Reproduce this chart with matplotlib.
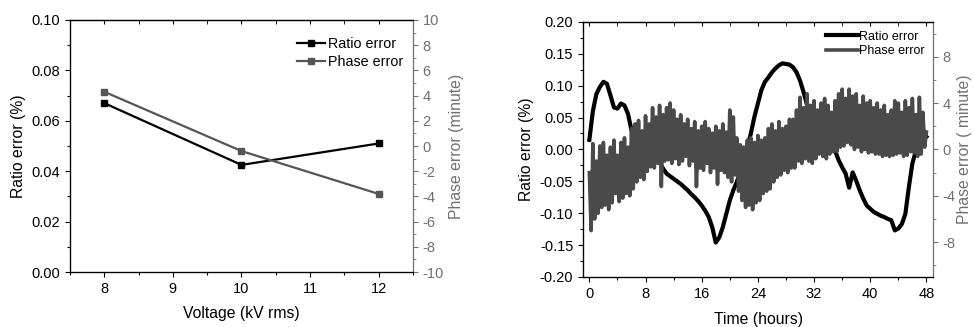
import numpy as np
import matplotlib.pyplot as plt
from matplotlib.ticker import MultipleLocator

plt.rcParams['font.family'] = ['Liberation Sans', 'DejaVu Sans']
plt.rcParams['axes.unicode_minus'] = False

# Left panel data (voltage sweep)
voltage = [8, 10, 12]
ratio_v = [0.067, 0.0425, 0.051]
phase_v = [4.3, -0.4, -3.8]

# Right panel data (48 hour run)
t_ratio = np.arange(0, 48.01, 0.5)
ratio_t = [
    0.015, 0.060, 0.087, 0.098, 0.106, 0.103, 0.085, 0.066, 0.064, 0.072,
    0.069, 0.056, 0.030, 0.020, 0.012, 0.006, 0.000, -0.005, -0.010, -0.014,
    -0.020, -0.030, -0.038, -0.042, -0.046, -0.050, -0.054, -0.059, -0.064, -0.070,
    -0.075, -0.081, -0.088, -0.096, -0.106, -0.122, -0.146, -0.138, -0.122, -0.101,
    -0.080, -0.064, -0.051, -0.035, -0.018, 0.004, 0.025, 0.051, 0.072, 0.093,
    0.106, 0.113, 0.121, 0.127, 0.132, 0.135, 0.134, 0.133, 0.129, 0.121,
    0.108, 0.090, 0.070, 0.055, 0.045, 0.035, 0.028, 0.020, 0.012, 0.005,
    -0.002, -0.017, -0.028, -0.038, -0.060, -0.036, -0.049, -0.064, -0.077, -0.088,
    -0.093, -0.098, -0.101, -0.104, -0.106, -0.109, -0.111, -0.127, -0.124, -0.117,
    -0.101, -0.059, -0.022, -0.002, 0.010, 0.015, 0.020,
]

t_phase = np.arange(0, 48.01, 0.25)
phase_t = [
    -2.0, -7.0, 0.5, -6.0,
    -1.0, -5.5, 0.3, -5.0,
    0.6, -4.8, -0.5, -5.2,
    0.2, -4.6, 0.8, -3.8,
    -0.5, -4.5, 0.6, -4.2,
    1.0, -3.8, 0.2, -4.0,
    1.8, -3.4, 2.2, -2.8,
    2.5, -2.4, 1.6, -2.6,
    2.9, -1.9, 2.2, -1.5,
    3.6, -1.6, 2.8, -1.2,
    3.8, -3.2, 3.0, -1.0,
    3.6, -0.9, 4.0, -1.2,
    3.4, -0.8, 2.6, -1.3,
    3.0, -1.0, 2.2, -0.6,
    2.6, -1.4, 1.8, -1.0,
    2.4, -3.2, 1.6, -1.6,
    2.0, -1.8, 2.4, -1.2,
    1.8, -2.0, 1.4, -1.6,
    2.0, -3.0, 1.6, -1.8,
    2.2, -2.0, 1.5, -2.4,
    3.4, -2.8, 2.8, -2.2,
    1.0, -3.6, 0.4, -4.4,
    0.2, -5.0, 0.8, -4.8,
    1.0, -5.2, 0.6, -4.6,
    1.2, -4.4, 0.8, -3.8,
    1.0, -3.6, 1.8, -3.4,
    2.2, -2.8, 1.6, -2.4,
    2.4, -2.2, 1.8, -1.8,
    2.0, -2.0, 2.6, -1.6,
    2.6, -1.6, 3.4, -1.0,
    4.5, -1.2, 3.6, -0.8,
    4.8, -1.0, 3.8, -1.2,
    4.2, -0.8, 3.4, -0.4,
    4.0, -0.6, 4.4, -0.8,
    3.8, -0.4, 3.2, -0.2,
    4.2, -0.2, 4.8, 0.2,
    5.2, 0.3, 4.4, 0.6,
    5.2, 0.4, 4.6, 0.0,
    4.8, 0.2, 3.8, -0.2,
    4.6, 0.0, 4.0, -0.3,
    4.2, -0.2, 3.6, -0.4,
    4.0, -0.4, 3.4, -0.6,
    3.8, -0.5, 3.0, -0.6,
    3.4, -0.5, 4.2, -0.4,
    4.0, -0.3, 3.2, -0.6,
    4.2, -0.5, 3.6, -0.2,
    4.4, -0.3, 3.0, -0.6,
    4.5, -0.4, 3.2, 0.2,
    1.5,
]

gray = '#555555'
band_gray = '#4a4a4a'
axis_gray = '#707070'

fig = plt.figure(figsize=(9.74, 3.27), dpi=100)


def style_axes(ax, ax2, xmajor, xminor):
    ax.xaxis.set_major_locator(MultipleLocator(xmajor))
    ax.xaxis.set_minor_locator(MultipleLocator(xminor))
    ax.tick_params(axis='both', which='both', direction='out', labelsize=10.5)
    ax.tick_params(which='major', length=3.5, width=0.8)
    ax.tick_params(which='minor', length=2, width=0.8)
    ax.tick_params(axis='x', top=False)
    ax2.tick_params(axis='y', which='both', direction='out', colors=axis_gray,
                    labelsize=10.5, labelcolor=axis_gray)
    ax2.tick_params(axis='y', which='major', length=3.5)
    ax2.tick_params(axis='y', which='minor', length=2)
    ax2.spines['right'].set_color(axis_gray)
    ax.spines['right'].set_visible(False)
    # inward ticks along the top edge
    top = ax.secondary_xaxis('top')
    top.xaxis.set_major_locator(MultipleLocator(xmajor))
    top.xaxis.set_minor_locator(MultipleLocator(xminor))
    top.tick_params(which='both', direction='in', labeltop=False, length=3)
    for s in ax.spines.values():
        s.set_linewidth(0.9)
    ax2.spines['right'].set_linewidth(0.9)


# ---- left panel ----
ax1 = fig.add_axes([0.0719, 0.168, 0.352, 0.771])
ax1b = ax1.twinx()
l1, = ax1.plot(voltage, ratio_v, color='black', marker='s', markersize=5, lw=1.6,
               label='Ratio error')
l2, = ax1b.plot(voltage, phase_v, color=gray, marker='s', markersize=5, lw=1.6,
                label='Phase error')
ax1.set_xlim(7.5, 12.5)
ax1.set_ylim(0, 0.1)
ax1b.set_ylim(-10, 10)
ax1.yaxis.set_major_locator(MultipleLocator(0.02))
ax1.yaxis.set_minor_locator(MultipleLocator(0.01))
ax1b.yaxis.set_major_locator(MultipleLocator(2))
ax1b.yaxis.set_minor_locator(MultipleLocator(1))
style_axes(ax1, ax1b, 1, 0.5)
ax1.set_xlabel('Voltage (kV rms)', fontsize=11.3, labelpad=7)
ax1.set_ylabel('Ratio error (%)', fontsize=11.3)
ax1b.set_ylabel('Phase error (minute)', fontsize=11.3, color=axis_gray)
ax1b.legend([l1, l2], ['Ratio error', 'Phase error'], loc='upper right',
            bbox_to_anchor=(1.023, 1.0),
            frameon=False, fontsize=10.3, handlelength=2.0, handletextpad=0.2,
            borderaxespad=0.8, labelspacing=0.25)

# ---- right panel ----
ax3 = fig.add_axes([0.5986, 0.153, 0.3594, 0.78])
ax3b = ax3.twinx()
l3, = ax3.plot(t_ratio, ratio_t, color='black', lw=3.0, label='Ratio error')
l4, = ax3b.plot(t_phase, phase_t, color=band_gray, lw=2.6, label='Phase error')
ax3.set_xlim(-0.9, 48.95)
ax3.set_ylim(-0.2, 0.2)
ax3b.set_ylim(-11, 11)
ax3.yaxis.set_major_locator(MultipleLocator(0.05))
ax3.yaxis.set_minor_locator(MultipleLocator(0.025))
ax3b.yaxis.set_major_locator(MultipleLocator(4))
ax3b.yaxis.set_minor_locator(MultipleLocator(2))
ax3b.set_yticks([-8, -4, 0, 4, 8])
style_axes(ax3, ax3b, 8, 4)
ax3.set_xlabel('Time (hours)', fontsize=11.3, labelpad=8)
ax3.set_ylabel('Ratio error (%)', fontsize=11.3)
ax3b.set_ylabel('Phase error ( minute)', fontsize=11.3, color=axis_gray,
                labelpad=1)
ax3b.legend([l3, l4], ['Ratio error', 'Phase error'], loc='upper right',
            frameon=False, fontsize=9, handlelength=2.6, handletextpad=0.05,
            borderaxespad=0.3, labelspacing=0.2)

fig.savefig('out.png', dpi=100)
